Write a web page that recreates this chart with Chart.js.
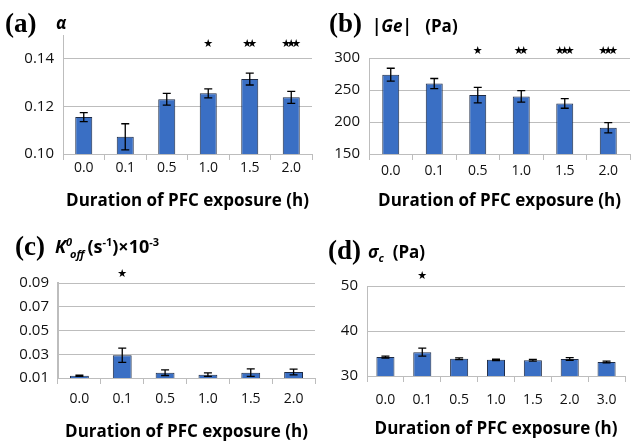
<!DOCTYPE html>
<html>
<head>
<meta charset="utf-8">
<script src="https://cdn.jsdelivr.net/npm/chart.js@4"></script>
<style>
  body { margin: 0; background: #fff; }
  #wrap { position: relative; width: 636px; height: 446px; overflow: hidden; }
  .panel { position: absolute; width: 318px; height: 223px; }
  .lbl { position: absolute; white-space: nowrap; color: #000; }
  .ser { font-family: "Liberation Serif", serif; font-weight: bold; font-size: 27px; }
  .sym { font-family: "Open Sans", sans-serif; font-weight: bold; font-size: 17px; }
  sub, sup { font-size: 11px; }
  .off { margin-left: -2px; margin-right: 3px; }
</style>
</head>
<body>
<div id="wrap">
  <div class="panel" style="left:0;top:0"><canvas id="cA"></canvas></div>
  <div class="panel" style="left:318px;top:0"><canvas id="cB"></canvas></div>
  <div class="panel" style="left:0;top:223px"><canvas id="cC"></canvas></div>
  <div class="panel" style="left:318px;top:223px"><canvas id="cD"></canvas></div>

  <div class="lbl ser" style="left:5px;top:8px">(a)</div>
  <div class="lbl sym" style="left:56px;top:11px"><i>α</i></div>
  <div class="lbl ser" style="left:329px;top:8px">(b)</div>
  <div class="lbl sym" style="left:372px;top:14px"><i>|Ge|</i>&nbsp;&nbsp;&nbsp;(Pa)</div>
  <div class="lbl ser" style="left:15px;top:231px">(c)</div>
  <div class="lbl sym" style="left:55px;top:234px;font-size:18px"><i>K<sup>0</sup><sub class="off">off</sub></i>(s<sup>-1</sup>)×10<sup>-3</sup></div>
  <div class="lbl ser" style="left:328px;top:235px">(d)</div>
  <div class="lbl sym" style="left:368px;top:240px"><i>σ<sub>c</sub></i>&nbsp;&nbsp;(Pa)</div>
</div>
<script>
// --- DATA ---
const hours6 = ['0.0', '0.1', '0.5', '1.0', '1.5', '2.0'];
const hours7 = ['0.0', '0.1', '0.5', '1.0', '1.5', '2.0', '3.0'];

const alphaVals = [0.1155, 0.1072, 0.1230, 0.1255, 0.1315, 0.1238];
const alphaErr  = [0.0019, 0.0055, 0.0025, 0.0019, 0.0025, 0.0025];
const alphaStars = ['', '', '', '*', '**', '***'];
const alphaTicks = [0.10, 0.12, 0.14];

const geVals = [274, 260, 242, 240, 229, 191];
const geErr  = [10, 8, 12, 9, 7.5, 8];
const geStars = ['', '', '*', '**', '***', '***'];
const geTicks = [150, 200, 250, 300];

const koffVals = [0.0119, 0.0291, 0.0145, 0.0128, 0.0145, 0.0150];
const koffErr  = [0.0006, 0.0060, 0.0024, 0.0015, 0.0032, 0.0024];
const koffStars = ['', '*', '', '', '', ''];
const koffTicks = [0.01, 0.03, 0.05, 0.07, 0.09];

const sigVals = [34.2, 35.3, 33.85, 33.6, 33.5, 33.8, 33.1];
const sigErr  = [0.2, 0.9, 0.2, 0.15, 0.2, 0.3, 0.2];
const sigStars = ['', '*', '', '', '', '', ''];
const sigTicks = [30, 40, 50];

const xTitle = 'Duration of PFC exposure (h)';

// --- PLUGIN: chybove useky a hvezdicky ---
const extras = {
    id: 'extras',
    afterDatasetsDraw(chart, args, opts) {
        const ctx = chart.ctx;
        const x = chart.scales.x, y = chart.scales.y;
        ctx.save();
        ctx.strokeStyle = '#000';
        ctx.lineWidth = 1.3;
        opts.values.forEach((v, i) => {
            const px = x.getPixelForValue(i);
            const yTop = y.getPixelForValue(v + opts.err[i]);
            const yBot = y.getPixelForValue(v - opts.err[i]);
            ctx.beginPath();
            ctx.moveTo(px, yTop); ctx.lineTo(px, yBot);
            ctx.moveTo(px - 4, yTop); ctx.lineTo(px + 4, yTop);
            ctx.moveTo(px - 4, yBot); ctx.lineTo(px + 4, yBot);
            ctx.stroke();
        });
        ctx.fillStyle = '#000';
        ctx.font = '11px "DejaVu Sans"';
        ctx.textAlign = 'center';
        ctx.textBaseline = 'middle';
        opts.stars.forEach((s, i) => {
            const n = s.length;
            const px = x.getPixelForValue(i);
            for (let k = 0; k < n; k++) {
                ctx.fillText('★', px + (k - (n - 1) / 2) * 5, chart.chartArea.top + opts.starDy);
            }
        });
        ctx.restore();
    }
};

function makeChart(id, labels, values, err, stars, ticks, cfg) {
    const grey = '#bdbdbd';
    return new Chart(document.getElementById(id), {
        type: 'bar',
        data: {
            labels: labels,
            datasets: [{
                data: values,
                backgroundColor: '#3a6fc4',
                borderColor: '#1e2b45',
                borderWidth: 1,
                barPercentage: cfg.barPct,
                categoryPercentage: 1
            }]
        },
        options: {
            responsive: false,
            animation: false,
            devicePixelRatio: 1,
            layout: { padding: { left: 0, right: cfg.padRight, top: cfg.padTop, bottom: 0 } },
            plugins: {
                legend: { display: false },
                tooltip: { enabled: false },
                extras: { values: values, err: err, stars: stars, starDy: cfg.starDy }
            },
            scales: {
                x: {
                    grid: { drawOnChartArea: false, color: grey, tickLength: 6, offset: true },
                    border: { color: grey },
                    ticks: { color: '#111', font: { family: 'Open Sans', size: 14 }, padding: cfg.tickPad },
                    title: { display: true, text: xTitle, color: '#000',
                             font: { family: 'Open Sans', size: 17, weight: 'bold' },
                             padding: { top: 4, bottom: cfg.titlePad } },
                    afterFit: s => { s.height = cfg.xH; }
                },
                y: {
                    min: cfg.min, max: cfg.max,
                    afterBuildTicks: s => { s.ticks = ticks.map(v => ({ value: v })); },
                    grid: { color: grey, drawTicks: false },
                    border: { color: grey, width: cfg.yBorder },
                    ticks: { color: '#111', font: { family: 'Open Sans', size: 15 }, padding: 9,
                             callback: v => v.toFixed(cfg.dec) },
                    afterFit: s => { s.width = cfg.yW; }
                }
            }
        },
        plugins: [extras]
    });
}

function size(id) {
    const c = document.getElementById(id);
    c.width = 318; c.height = 223;
}
['cA', 'cB', 'cC', 'cD'].forEach(size);

makeChart('cA', hours6, alphaVals, alphaErr, alphaStars, alphaTicks,
    { min: 0.10, max: 0.15, dec: 2, yW: 63, padRight: 6, padTop: 35, xH: 69, tickPad: 0, titlePad: 12, barPct: 0.41, starDy: 9, yBorder: 1 });
makeChart('cB', hours6, geVals, geErr, geStars, geTicks,
    { min: 150, max: 300, dec: 0, yW: 51, padRight: 6, padTop: 58, xH: 69, tickPad: 3, titlePad: 12, barPct: 0.39, starDy: -7, yBorder: 1 });
makeChart('cC', hours6, koffVals, koffErr, koffStars, koffTicks,
    { min: 0.01, max: 0.09, dec: 2, yW: 58, padRight: 3, padTop: 60, xH: 68, tickPad: 7, titlePad: 4, barPct: 0.44, starDy: -9, yBorder: 2 });
makeChart('cD', hours7, sigVals, sigErr, sigStars, sigTicks,
    { min: 30, max: 50, dec: 0, yW: 49, padRight: 11, padTop: 63, xH: 70, tickPad: 10, titlePad: 7, barPct: 0.49, starDy: -10, yBorder: 1 });
</script>
</body>
</html>
